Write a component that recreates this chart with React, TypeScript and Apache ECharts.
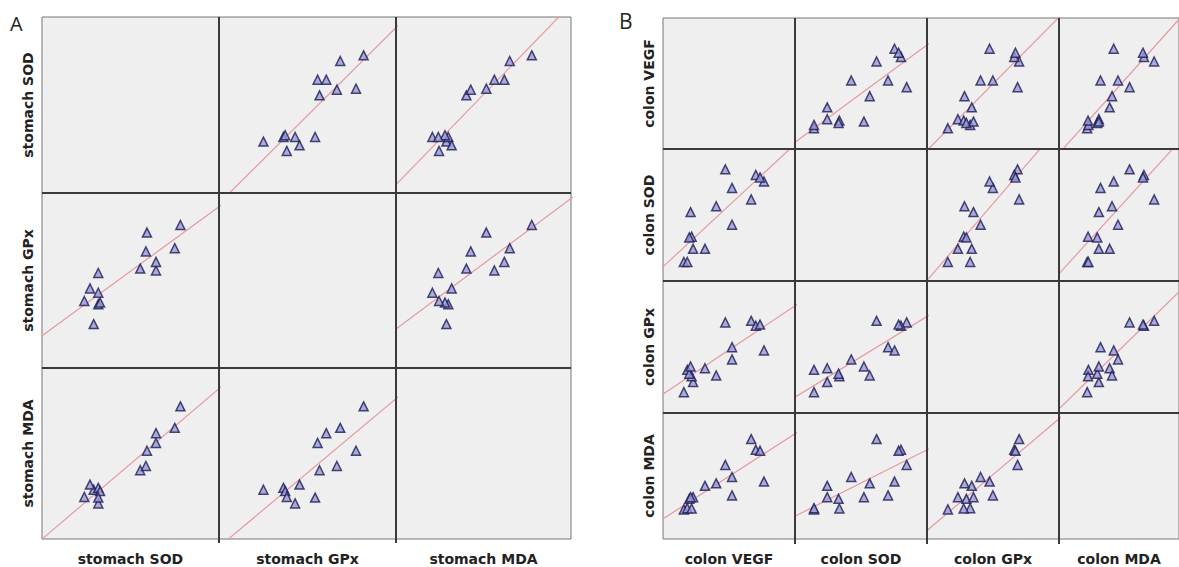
import React, { useEffect, useRef } from "react";
import * as echarts from "echarts";

// ---- Panel A : stomach (values read as position within each panel, 0-100) ----
const stomachLabels = ["stomach SOD", "stomach GPx", "stomach MDA"];
const stomachSOD = [29.2, 31.8, 32.8, 23.9, 31.8, 27.1, 31.8, 64.4, 64.4, 55.5, 75.0, 58.7, 59.3, 78.2];
const stomachGPx = [25.1, 36.4, 37.4, 38.3, 43.0, 45.5, 54.3, 55.7, 60.6, 56.8, 68.5, 66.6, 77.4, 81.7];
const stomachMDA = [28.8, 29.9, 28.0, 24.6, 20.8, 31.8, 24.2, 56.2, 61.9, 40.2, 65.0, 42.7, 51.6, 77.6];

// ---- Panel B : colon ----
const colonLabels = ["colon VEGF", "colon SOD", "colon GPx", "colon MDA"];
const colonVEGF = [15.8, 18.4, 22.8, 31.8, 21.7, 19.9, 20.9, 40.3, 52.3, 47.2, 52.3, 66.8, 70.3, 76.5, 73.5];
const colonSOD = [14.4, 14.4, 24.4, 24.4, 33.6, 33.0, 52.2, 56.6, 42.6, 84.6, 70.5, 61.8, 80.3, 75.4, 78.5];
const colonGPx = [15.8, 32.7, 23.4, 33.9, 27.8, 29.8, 35.2, 28.4, 40.6, 68.6, 49.9, 69.8, 66.1, 47.4, 67.0];
const colonMDA = [23.5, 24.5, 33.2, 42.2, 24.2, 31.9, 33.2, 44.2, 49.2, 58.8, 34.6, 79.3, 70.8, 45.6, 70.0];

const stomachVars = [stomachSOD, stomachGPx, stomachMDA];
const colonVars = [colonVEGF, colonSOD, colonGPx, colonMDA];

// layout (pixel edges of matrix cells)
const aXs = [42, 219, 396, 571];
const aYs = [17, 193, 368, 543];
const bXs = [663, 795, 927, 1059, 1192];
const bYs = [18, 149, 281, 413, 544];

function fitLine(xs: number[], ys: number[]) {
  const n = xs.length;
  const mx = xs.reduce((s, v) => s + v, 0) / n;
  const my = ys.reduce((s, v) => s + v, 0) / n;
  let sxy = 0, sxx = 0;
  for (let i = 0; i < n; i++) {
    sxy += (xs[i] - mx) * (ys[i] - my);
    sxx += (xs[i] - mx) * (xs[i] - mx);
  }
  const b = sxy / sxx;
  const a = my - b * mx;
  return [[-5, a - 5 * b], [105, a + 105 * b]];
}

const FONT = "DejaVu Sans";
const labelStyle = { fontFamily: FONT, fontWeight: "bold", fontSize: 14, color: "#222" };

function buildOption() {
  const grid: any[] = [];
  const xAxis: any[] = [];
  const yAxis: any[] = [];
  const series: any[] = [];
  const graphic: any[] = [];

  const addMatrix = (vars: number[][], labels: string[], xs: number[], ys: number[]) => {
    const k = vars.length;
    for (let r = 0; r < k; r++) {
      for (let c = 0; c < k; c++) {
        const gi = grid.length;
        grid.push({
          left: xs[c],
          top: ys[r],
          width: xs[c + 1] - xs[c],
          height: ys[r + 1] - ys[r],
          show: true,
          backgroundColor: "#efefef",
          borderColor: "#777777",
          borderWidth: 1,
        });
        xAxis.push({
          gridIndex: gi,
          type: "value",
          min: 0,
          max: 100,
          axisLine: { show: false },
          axisTick: { show: false },
          axisLabel: { show: false },
          splitLine: { show: false },
          name: r === k - 1 ? labels[c] : "",
          nameLocation: "middle",
          nameGap: 13,
          nameTextStyle: labelStyle,
        });
        yAxis.push({
          gridIndex: gi,
          type: "value",
          min: 0,
          max: 100,
          axisLine: { show: false },
          axisTick: { show: false },
          axisLabel: { show: false },
          splitLine: { show: false },
          name: c === 0 ? labels[r] : "",
          nameLocation: "middle",
          nameGap: 7,
          nameRotate: 90,
          nameTextStyle: labelStyle,
        });
        if (r !== c) {
          const xv = vars[c];
          const yv = vars[r];
          series.push({
            type: "line",
            xAxisIndex: gi,
            yAxisIndex: gi,
            data: fitLine(xv, yv),
            symbol: "none",
            clip: true,
            silent: true,
            lineStyle: { color: "#e59aa2", width: 1.2 },
            z: 2,
          });
          series.push({
            type: "scatter",
            xAxisIndex: gi,
            yAxisIndex: gi,
            data: xv.map((v, i) => [v, yv[i]]),
            symbol: "triangle",
            symbolSize: 9,
            itemStyle: { color: "#9a9ad6", borderColor: "#1c1c55", borderWidth: 1.5 },
            z: 3,
          });
        }
      }
    }
    // thicker internal dividers
    for (let c = 1; c < k; c++) {
      graphic.push({
        type: "line",
        shape: { x1: xs[c], y1: ys[0], x2: xs[c], y2: ys[k] },
        style: { stroke: "#3a3a3a", lineWidth: 2 },
        z: 10,
      });
    }
    for (let r = 1; r < k; r++) {
      graphic.push({
        type: "line",
        shape: { x1: xs[0], y1: ys[r], x2: xs[k], y2: ys[r] },
        style: { stroke: "#3a3a3a", lineWidth: 2 },
        z: 10,
      });
    }
  };

  addMatrix(stomachVars, stomachLabels, aXs, aYs);
  addMatrix(colonVars, colonLabels, bXs, bYs);

  graphic.push({
    type: "text",
    left: 10,
    top: 13,
    style: { text: "A", fontFamily: "Open Sans", fontSize: 20, fill: "#222" },
  });
  graphic.push({
    type: "text",
    left: 619,
    top: 10,
    style: { text: "B", fontFamily: "Open Sans", fontSize: 21, fill: "#222" },
  });

  return {
    animation: false,
    backgroundColor: "#ffffff",
    grid,
    xAxis,
    yAxis,
    series,
    graphic,
  };
}

export default function App() {
  const ref = useRef<HTMLDivElement>(null);
  useEffect(() => {
    if (!ref.current) return;
    const chart = echarts.init(ref.current, undefined, { renderer: "svg" });
    chart.setOption(buildOption() as any);
    return () => chart.dispose();
  }, []);
  return (
    <div
      ref={ref}
      style={{ position: "fixed", left: 0, top: 0, width: 1179, height: 567, background: "#fff" }}
    />
  );
}
